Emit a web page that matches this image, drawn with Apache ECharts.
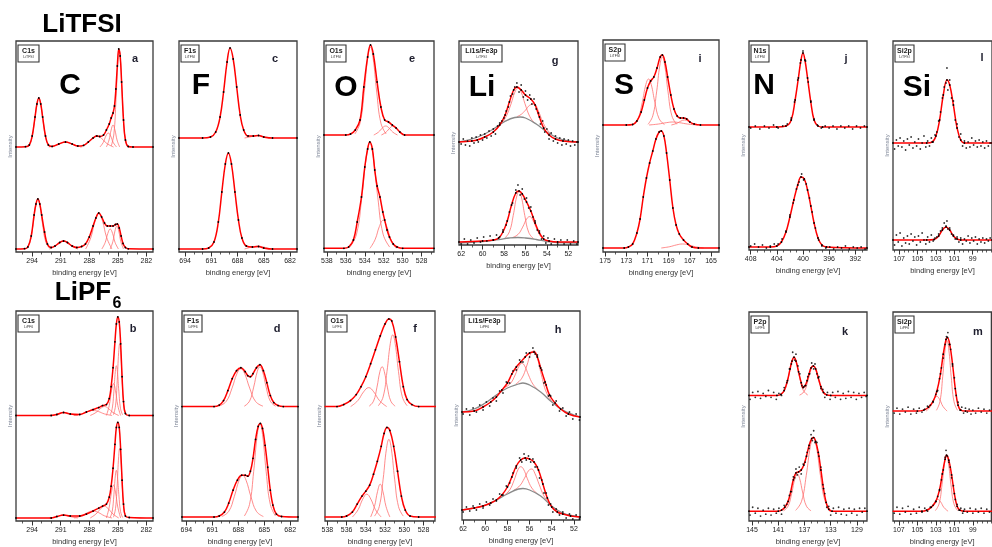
<!DOCTYPE html>
<html><head><meta charset="utf-8">
<script src="https://cdn.jsdelivr.net/npm/echarts@6/dist/echarts.min.js"></script>
<style>html,body{margin:0;padding:0;background:#fff}#c{width:992px;height:547px}</style>
</head><body><div id="c"></div>
<script>
// ---------- tick labels ----------
const tickC = [294, 291, 288, 285, 282];
const tickF = [694, 691, 688, 685, 682];
const tickO = [538, 536, 534, 532, 530, 528];
const tickLi = [62, 60, 58, 56, 54, 52];
const tickS = [175, 173, 171, 169, 167, 165];
const tickN = [408, 404, 400, 396, 392];
const tickP = [145, 141, 137, 133, 129];
const tickSi = [107, 105, 103, 101, 99];

// ---------- a : C1s LiTFSI ----------
const aUpEnv = [[295.7,105],[294.7,105.3],[294.3,107],[294.0,116],[293.7,135],[293.5,148],[293.3,154],[293.1,148],[292.9,135],[292.6,116],[292.3,107],[291.9,105.6],[291.2,108],[290.5,110],[289.8,108],[289.2,106],[288.6,106.6],[288.1,110],[287.6,114],[287.2,116],[286.9,115.5],[286.5,117],[286.2,122],[285.9,128],[285.7,134],[285.5,139],[285.35,146],[285.2,163],[285.05,186],[284.9,203],[284.75,196],[284.6,170],[284.4,132],[284.2,112],[283.9,105.5],[283.4,105],[281.3,105]];
const aUpComps = [
 [[294.5,105.5],[294.1,111.6],[293.78,128.9],[293.5,148.2],[293.3,154],[293.1,148.2],[292.82,128.9],[292.5,111.6],[292.1,105.5]],
 [[292.25,105],[291.55,106.6],[290.99,108.9],[290.5,110],[290.01,108.9],[289.45,106.6],[288.75,105]],
 [[288.95,105],[288.25,108.5],[287.69,113.6],[287.2,116],[286.71,113.6],[286.15,108.5],[285.45,105]],
 [[286.88,105],[286.53,109.5],[286.25,116],[286.0,119],[285.75,116],[285.48,109.5],[285.13,105]],
 [[286.2,105],[285.92,112],[285.7,122],[285.5,127],[285.3,122],[285.08,112],[284.8,105]],
 [[285.69,106],[285.41,118.1],[285.19,152.2],[284.99,190.6],[284.85,202],[284.71,190.6],[284.51,152.2],[284.29,118.1],[284.01,106]]
];
const aLoEnv = [[295.7,3],[294.8,3.3],[294.45,5],[294.1,16],[293.8,37],[293.6,48],[293.4,53],[293.2,48],[293.0,37],[292.7,20],[292.4,8],[292.0,4.5],[291.6,6],[291.1,9.5],[290.7,11],[290.3,9.5],[289.8,6],[289.3,4.5],[288.8,5.5],[288.4,8],[288.0,15],[287.6,26],[287.3,34],[287.0,39],[286.7,35],[286.4,29],[286.1,26],[285.8,26],[285.5,26],[285.25,27.5],[285.05,28],[284.85,24],[284.65,16],[284.45,8.5],[284.2,4.5],[283.9,3.2],[281.3,3]];
const aLoComps = [
 [[294.66,3.6],[294.24,9.8],[293.9,27.4],[293.61,47.1],[293.4,53],[293.19,47.1],[292.9,27.4],[292.56,9.8],[292.14,3.6]],
 [[292.2,3],[291.6,5.6],[291.12,9.2],[290.7,11],[290.28,9.2],[289.8,5.6],[289.2,3]],
 [[288.38,3],[287.83,14.5],[287.39,31],[287.0,39],[286.61,31],[286.17,14.5],[285.62,3]],
 [[286.68,3],[286.33,9.4],[286.05,18.6],[285.8,23],[285.55,18.6],[285.28,9.4],[284.93,3]],
 [[285.8,3],[285.52,10.4],[285.3,21],[285.1,26],[284.9,21],[284.68,10.4],[284.4,3]]
];

// ---------- b : C1s LiPF6 ----------
const bUpEnv = [[295.7,106],[292.0,106],[291.4,107],[290.7,109],[290.0,107.5],[289.0,107],[288.3,109.5],[287.6,112],[287.0,114],[286.6,116],[286.2,117],[285.9,123],[285.7,135],[285.5,154],[285.3,180],[285.15,198],[285.0,205],[284.85,200],[284.7,178],[284.55,145],[284.4,120],[284.2,108],[283.8,106],[281.3,106]];
const bUpComps = [
 [[285.46,106.8],[285.24,115.7],[285.06,141.1],[284.91,169.5],[284.8,178],[284.69,169.5],[284.54,141.1],[284.36,115.7],[284.14,106.8]],
 [[285.81,106.6],[285.59,112.8],[285.41,130.4],[285.26,150.1],[285.15,156],[285.04,150.1],[284.89,130.4],[284.71,112.8],[284.49,106.6]],
 [[286.2,106],[285.9,116],[285.66,131],[285.45,138],[285.24,131],[285.0,116],[284.7,106]],
 [[287.9,106],[287.3,109],[286.82,113],[286.4,115],[285.98,113],[285.5,109],[284.9,106]],
 [[289.6,106],[288.8,107.6],[288.16,110],[287.6,111],[287.04,110],[286.4,107.6],[285.6,106]],
 [[292.2,106],[291.6,107],[291.12,108.3],[290.7,109],[290.28,108.3],[289.8,107],[289.2,106]]
];
const bLoEnv = [[295.7,3],[292.0,3],[291.4,4.5],[290.7,6],[290.0,5],[289.0,5],[288.3,7],[287.6,10],[287.0,13],[286.6,15],[286.2,17],[285.9,24],[285.7,35],[285.5,53],[285.3,77],[285.15,94],[285.0,99],[284.85,94],[284.7,72],[284.55,41],[284.4,17],[284.2,5],[283.8,3.5],[281.3,3]];
const bLoComps = [
 [[285.46,3.8],[285.24,12.5],[285.06,37.1],[284.91,64.7],[284.8,73],[284.69,64.7],[284.54,37.1],[284.36,12.5],[284.14,3.8]],
 [[285.81,3.5],[285.59,9.5],[285.41,26.4],[285.26,45.3],[285.15,51],[285.04,45.3],[284.89,26.4],[284.71,9.5],[284.49,3.5]],
 [[286.2,3],[285.9,14],[285.66,29],[285.45,36],[285.24,29],[285.0,14],[284.7,3]],
 [[287.9,3],[287.3,7],[286.82,12],[286.4,15],[285.98,12],[285.5,7],[284.9,3]],
 [[289.6,3],[288.8,5.2],[288.16,8.5],[287.6,10],[287.04,8.5],[286.4,5.2],[285.6,3]],
 [[292.2,3],[291.6,4],[291.12,5.3],[290.7,6],[290.28,5.3],[289.8,4],[289.2,3]]
];

// ---------- c : F1s LiTFSI ----------
const cUpEnv = [[694.7,114],[692.0,114],[691.1,115],[690.5,120],[690.0,135],[689.6,160],[689.2,190],[688.86,204],[688.5,193],[688.1,165],[687.7,137],[687.3,122],[686.8,116],[686.2,116],[685.6,116.5],[685.0,115],[684.0,114],[681.2,114]];
const cUpComps = [[[687.2,114],[686.6,115],[686.1,116],[685.7,116.5],[685.3,116],[684.8,115],[684.2,114]]];
const cLoEnv = [[694.7,3],[692.0,3],[691.3,4],[690.7,10],[690.2,30],[689.8,60],[689.4,88],[689.05,99],[688.7,88],[688.3,60],[687.9,32],[687.5,14],[687.0,6],[686.3,5],[685.6,5.5],[685.0,4],[684.0,3],[681.2,3]];
const cLoComps = [[[687.2,3],[686.6,4.5],[686.1,5.5],[685.7,6],[685.3,5.5],[684.8,4.5],[684.2,3]]];

// ---------- d : F1s LiPF6 ----------
const dUpEnv = [[694.5,115],[690.8,115],[690.2,116.5],[689.7,121],[689.2,131],[688.7,143],[688.2,151],[687.7,154],[687.2,150],[686.9,146],[686.6,145],[686.3,148],[685.9,154],[685.5,157],[685.1,151],[684.7,139],[684.3,126],[683.9,119],[683.4,116],[682.8,115],[681.1,115]];
const dUpComps = [
 [[690.25,115.4],[689.4,120.1],[688.72,133.5],[688.13,148.5],[687.7,153],[687.28,148.5],[686.68,133.5],[686.0,120.1],[685.15,115.4]],
 [[687.3,115.4],[686.7,120.4],[686.22,134.5],[685.8,150.3],[685.5,155],[685.2,150.3],[684.78,134.5],[684.3,120.4],[683.7,115.4]]
];
const dLoEnv = [[694.5,4],[690.8,4],[690.2,5],[689.6,9],[689.1,18],[688.6,31],[688.1,41],[687.6,46],[687.2,46],[686.9,45],[686.6,50],[686.3,63],[686.0,82],[685.7,95],[685.45,98],[685.2,93],[684.9,76],[684.6,54],[684.3,31],[684.0,16],[683.6,7],[683.0,4.5],[681.1,4]];
const dLoComps = [
 [[689.9,4.5],[689.1,9.7],[688.46,24.5],[687.9,41],[687.5,46],[687.1,41],[686.54,24.5],[685.9,9.7],[685.1,4.5]],
 [[687.3,5],[686.7,16.7],[686.22,49.8],[685.8,86.9],[685.5,98],[685.2,86.9],[684.78,49.8],[684.3,16.7],[683.7,5]]
];

// ---------- e : O1s LiTFSI ----------
const eUpEnv = [[538.3,117],[536.0,117],[535.5,118],[535.0,122],[534.5,132],[534.1,165],[533.7,195],[533.4,207],[533.1,198],[532.7,170],[532.3,145],[531.9,132],[531.5,130],[531.1,127],[530.7,124],[530.3,120],[529.8,117],[526.7,117]];
const eUpComps = [
 [[535.05,118],[534.5,128.9],[534.06,159.9],[533.68,194.6],[533.4,205],[533.13,194.6],[532.74,159.9],[532.3,128.9],[531.75,118]],
 [[533.05,117],[532.55,119.9],[532.15,124],[531.8,126],[531.45,124],[531.05,119.9],[530.55,117]],
 [[532.25,117],[531.75,119.9],[531.35,124],[531.0,126],[530.65,124],[530.25,119.9],[529.75,117]]
];
const eLoEnv = [[538.3,3.7],[536.2,3.7],[535.7,5],[535.2,12],[534.8,30],[534.35,55],[534.0,85],[533.7,103],[533.47,110],[533.2,103],[532.95,82],[532.7,66],[532.4,55],[532.1,40],[531.9,32],[531.65,22],[531.4,15],[531.0,8],[530.6,5],[530.0,3.7],[526.7,3.7]];
const eLoComps = [
 [[535.57,4.9],[534.87,17.9],[534.31,54.8],[533.82,96.3],[533.47,108.7],[533.12,96.3],[532.63,54.8],[532.07,17.9],[531.37,4.9]],
 [[533.45,3.7],[532.9,12.7],[532.46,25.5],[532.07,31.7],[531.68,25.5],[531.25,12.7],[530.7,3.7]]
];

// ---------- f : O1s LiPF6 ----------
const fUpEnv = [[538.3,115],[537.0,115],[536.3,117],[535.6,121],[535.0,127],[534.5,135],[534.0,145],[533.5,158],[533.0,172],[532.5,186],[532.0,198],[531.6,203],[531.3,201],[530.9,185],[530.5,160],[530.1,135],[529.7,122],[529.2,117],[528.5,115],[526.7,115]];
const fUpComps = [
 [[535.58,115],[534.83,121],[534.23,129.8],[533.7,134],[533.18,129.8],[532.58,121],[531.83,115]],
 [[533.65,115.4],[533.2,120.4],[532.84,134.5],[532.53,150.3],[532.3,155],[532.08,150.3],[531.76,134.5],[531.4,120.4],[530.95,115.4]],
 [[532.7,115.8],[532.2,124.7],[531.8,150.1],[531.45,178.5],[531.2,187],[530.95,178.5],[530.6,150.1],[530.2,124.7],[529.7,115.8]]
];
const fLoEnv = [[538.3,4],[536.5,4],[536.0,5],[535.4,9],[534.9,17],[534.4,25],[534.0,30],[533.6,36],[533.2,47],[532.8,60],[532.4,75],[532.1,88],[531.8,94],[531.5,91],[531.1,75],[530.7,50],[530.3,25],[529.9,11],[529.4,5],[528.5,4],[526.7,4]];
const fLoComps = [
 [[535.4,4],[534.8,11.4],[534.32,22],[533.9,27],[533.48,22],[533.0,11.4],[532.4,4]],
 [[533.5,4],[533.1,14.6],[532.78,29.7],[532.5,37],[532.22,29.7],[531.9,14.6],[531.5,4]],
 [[533.1,4.9],[532.6,14.5],[532.2,42],[531.85,72.8],[531.6,82],[531.35,72.8],[531.0,42],[530.6,14.5],[530.1,4.9]]
];

// ---------- g : Li1s/Fe3p LiTFSI ----------
const gUpEnv = [[62.2,103],[61.0,104],[60.5,105],[59.8,108],[59.0,113],[58.4,120],[57.9,130],[57.5,143],[57.1,155],[56.8,158],[56.4,155],[56.0,150],[55.5,146],[55.1,140],[54.7,128],[54.3,117],[53.8,110],[53.2,106],[52.5,104],[51.1,103]];
const gUpBg = [[62.2,103],[61.0,106],[60.0,110],[59.0,116],[58.0,123],[57.0,127.5],[56.5,128],[56.0,127],[55.0,121],[54.0,113],[53.0,107],[52.0,104],[51.1,103]];
const gUpComps = [
 [[58.2,122],[57.8,128.5],[57.35,141],[57.0,152.5],[56.7,157],[56.4,152.8],[56.05,141.4],[55.6,128.5],[55.2,122.5]],
 [[56.8,128.3],[56.4,130.6],[56.0,134.8],[55.6,139.8],[55.2,141],[54.8,134],[54.4,123.4],[54.0,115.6],[53.6,111]]
];
const gUpMeas = [[62.0,101],[61.8,106],[61.6,100],[61.4,104],[61.2,99],[61.0,107],[60.8,102],[60.6,108],[60.4,103],[60.2,110],[60.0,105],[59.8,111],[59.6,107],[59.4,114],[59.2,109],[59.0,116],[58.8,111],[58.6,119],[58.4,122],[58.2,124],[58.0,127],[57.8,134],[57.6,138],[57.4,149],[57.2,151],[57.0,158],[56.8,162],[56.6,153],[56.4,160],[56.2,148],[56.0,154],[55.8,145],[55.6,150],[55.4,141],[55.2,146],[55.0,136],[54.8,132],[54.6,121],[54.4,124],[54.2,113],[54.0,116],[53.8,106],[53.6,112],[53.4,104],[53.2,109],[53.0,102],[52.8,107],[52.6,100],[52.4,106],[52.2,101],[52.0,105],[51.8,99],[51.6,104],[51.4,100],[51.2,103]];
const gLoEnv = [[62.2,3],[60.0,4],[59.0,5],[58.5,7],[58.1,13],[57.7,24],[57.3,40],[56.9,52],[56.6,54],[56.3,51],[55.9,43],[55.5,34],[55.1,22],[54.7,12],[54.3,6],[53.8,4],[53.0,3],[51.1,3]];
const gLoBg = [[62.2,2],[60.0,3.5],[58.5,5.5],[57.5,7],[56.7,7.5],[56.0,7],[55.0,5.5],[54.0,3.5],[53.0,2.5],[51.1,2]];
const gLoComps = [
 [[57.95,6.7],[57.5,13.2],[57.14,29.6],[56.83,48],[56.6,53.5],[56.38,48],[56.06,29.4],[55.7,12.7],[55.25,6.3]],
 [[57.25,7.3],[56.7,10.5],[56.26,17.9],[55.88,26.2],[55.6,28.4],[55.33,25.4],[54.94,16.1],[54.5,7.5],[53.95,3.7]]
];
const gLoMeas = [[62.0,1],[61.7,6],[61.4,1],[61.1,5],[60.8,2],[60.5,7],[60.2,3],[59.9,8],[59.6,4],[59.3,9],[59.0,5],[58.7,10],[58.4,8],[58.1,15],[57.8,20],[57.5,33],[57.2,42],[56.9,55],[56.7,60],[56.5,50],[56.3,56],[56.1,46],[55.9,47],[55.7,37],[55.5,38],[55.3,28],[55.1,24],[54.9,15],[54.7,14],[54.5,6],[54.3,9],[54.1,2],[53.9,7],[53.6,1],[53.3,6],[53.0,1],[52.7,5],[52.4,1],[52.1,5],[51.8,1],[51.5,4],[51.2,1]];

// ---------- h : Li1s/Fe3p LiPF6 ----------
const hUpEnv = [[62.1,108],[61.0,109],[60.2,113],[59.5,118],[59.0,123],[58.5,130],[58.0,137],[57.6,146],[57.2,153],[56.8,158],[56.4,163],[56.0,167],[55.6,168],[55.3,163],[55.0,152],[54.6,138],[54.2,125],[53.7,117],[53.2,111],[52.5,106],[51.45,103]];
const hUpBg = [[62.1,108],[61.0,111],[60.0,117],[59.0,125],[58.0,132],[57.0,136],[56.6,137],[56.0,135],[55.0,128],[54.0,118],[53.0,110],[52.0,105],[51.45,103]];
const hUpComps = [
 [[58.2,132.6],[57.7,136.9],[57.3,145.1],[56.95,153.9],[56.7,156.8],[56.45,154.2],[56.1,145.1],[55.7,135.9],[55.2,129.8]],
 [[57.25,135.9],[56.7,141.8],[56.26,154],[55.88,166.7],[55.6,169.3],[55.33,162.9],[54.94,145.4],[54.5,128],[53.95,117.9]]
];
const hUpMeas = [[62.0,106],[61.7,111],[61.4,105],[61.1,112],[60.8,108],[60.5,115],[60.2,110],[59.9,118],[59.6,114],[59.3,122],[59.0,119],[58.7,129],[58.4,127],[58.1,138],[57.8,137],[57.5,149],[57.2,150],[56.9,160],[56.6,158],[56.3,167],[56.0,163],[55.7,172],[55.5,166],[55.3,165],[55.1,154],[54.9,150],[54.7,137],[54.5,135],[54.3,124],[54.1,124],[53.9,115],[53.6,119],[53.3,109],[53.0,112],[52.7,104],[52.4,108],[52.1,101],[51.8,106],[51.5,100]];
const hLoEnv = [[62.1,10],[61.0,12],[60.2,14],[59.5,17],[59.0,20],[58.5,25],[58.0,33],[57.6,43],[57.2,54],[56.8,60],[56.4,62],[56.0,61],[55.6,58],[55.2,50],[54.8,36],[54.4,22],[54.0,13],[53.5,8],[53.0,6],[52.3,4],[51.45,3]];
const hLoBg = [[62.1,10],[61.0,12],[60.0,15],[59.0,20],[58.0,26],[57.0,31],[56.6,31.5],[56.0,30],[55.0,24],[54.0,14],[53.0,7],[52.0,4],[51.45,3]];
const hLoComps = [
 [[58.3,24.6],[57.8,30],[57.4,39.7],[57.05,50.2],[56.8,53.3],[56.55,50.9],[56.2,41.3],[55.8,32],[55.3,26.2]],
 [[57.45,29.6],[56.9,34.1],[56.46,41.8],[56.08,49.5],[55.8,51],[55.53,46.8],[55.14,35.7],[54.7,24],[54.15,15.7]]
];
const hLoMeas = [[62.0,8],[61.7,13],[61.4,9],[61.1,14],[60.8,10],[60.5,16],[60.2,12],[59.9,18],[59.6,15],[59.3,21],[59.0,19],[58.7,26],[58.4,25],[58.1,34],[57.8,37],[57.5,47],[57.2,52],[56.9,62],[56.7,58],[56.5,66],[56.3,60],[56.1,64],[55.9,58],[55.7,61],[55.5,53],[55.3,53],[55.1,42],[54.9,40],[54.7,27],[54.5,27],[54.3,15],[54.1,16],[53.9,8],[53.6,11],[53.3,5],[53.0,8],[52.7,2],[52.4,6],[52.1,1],[51.8,5],[51.5,1]];

// ---------- i : S2p LiTFSI ----------
const iUpEnv = [[175.2,127],[173.0,127],[172.4,127.5],[172.0,131],[171.6,140],[171.3,152],[171.0,164],[170.7,171],[170.4,175],[170.1,184],[169.8,195],[169.6,197],[169.35,190],[169.1,175],[168.8,157],[168.5,143],[168.2,136],[167.9,134],[167.6,134],[167.3,133],[167.0,130],[166.6,128],[166.0,127],[164.25,127]];
const iUpComps = [
 [[170.95,127.7],[170.5,136.2],[170.14,160.1],[169.83,187],[169.6,195],[169.38,187],[169.06,160.1],[168.7,136.2],[168.25,127.7]],
 [[172.4,127.5],[171.9,133.2],[171.5,149.4],[171.15,167.6],[170.9,173],[170.65,167.6],[170.3,149.4],[169.9,133.2],[169.4,127.5]],
 [[168.75,127],[168.25,128.6],[167.85,130.9],[167.5,132],[167.15,130.9],[166.75,128.6],[166.25,127]],
 [[170.85,127],[169.95,128],[169.23,129.3],[168.6,130],[167.97,129.3],[167.25,128],[166.35,127]]
];
const iLoEnv = [[175.2,4],[173.2,4],[172.8,5],[172.4,8],[172.0,19],[171.7,33],[171.4,55],[171.1,74],[170.8,89],[170.5,101],[170.2,113],[169.9,120],[169.7,121],[169.45,116],[169.2,99],[168.9,72],[168.6,44],[168.3,27],[168.0,18],[167.6,12],[167.2,8],[166.8,5],[166.2,4],[164.25,4]];
const iLoComps = [[[169.7,4],[168.9,5.3],[168.26,7.1],[167.7,8],[167.14,7.1],[166.5,5.3],[165.7,4]]];

// ---------- j : N1s LiTFSI ----------
const jUpEnv = [[408.26,123],[404,123],[402.6,124],[401.8,130],[401.2,150],[400.7,172],[400.3,190],[400.0,197],[399.7,190],[399.3,172],[398.8,148],[398.3,130],[397.7,124],[397,123],[390.2,123]];
const jUpMeas = [[408,122],[407.3,124],[406.6,121],[405.9,124],[405.2,122],[404.5,125],[403.8,122],[403.1,124],[402.4,126],[401.8,132],[401.3,148],[400.8,170],[400.4,187],[400.0,199],[399.6,189],[399.2,168],[398.8,149],[398.3,131],[397.8,125],[397.2,122],[396.6,124],[396.0,122],[395.4,124],[394.8,121],[394.2,124],[393.6,122],[393.0,124],[392.4,121],[391.8,124],[391.2,122],[390.6,124]];
const jLoEnv = [[408.26,3],[405,3],[404,4],[403.3,8],[402.6,18],[402.0,33],[401.4,50],[400.8,65],[400.3,73],[399.8,71],[399.3,60],[398.8,44],[398.3,27],[397.7,12],[397.1,5],[396.4,3],[390.2,2]];
const jLoMeas = [[408,4],[407.4,6],[406.8,3],[406.2,5],[405.6,2],[405,4],[404.4,6],[403.8,6],[403.2,11],[402.6,19],[402.0,35],[401.5,47],[401.0,61],[400.6,68],[400.2,76],[399.9,70],[399.5,66],[399.0,52],[398.6,38],[398.1,22],[397.6,10],[397.1,4],[396.5,2],[395.9,3],[395.3,1],[394.7,3],[394.1,2],[393.5,4],[392.9,1],[392.3,3],[391.7,2],[391.1,3],[390.5,1]];

// ---------- k : P2p LiPF6 ----------
const kUpEnv = [[145.46,128],[141.2,128],[140.6,129],[140.1,133],[139.6,143],[139.2,155],[138.9,163],[138.6,167],[138.3,163],[137.9,152],[137.5,141],[137.2,136],[136.9,138],[136.6,143],[136.3,150],[136.0,156],[135.65,158],[135.3,155],[134.9,146],[134.5,137],[134.1,131],[133.6,128.5],[133.0,128],[127.47,128]];
const kUpComps = [
 [[140.7,128.4],[140.0,133.3],[139.44,147],[138.95,162.4],[138.6,167],[138.25,162.4],[137.76,147],[137.2,133.3],[136.5,128.4]],
 [[137.75,128.3],[137.05,132],[136.49,142.6],[136.0,154.5],[135.65,158],[135.3,154.5],[134.81,142.6],[134.25,132],[133.55,128.3]]
];
const kUpMeas = [[145.3,124],[144.9,131],[144.5,126],[144.1,132],[143.7,125],[143.3,130],[142.9,127],[142.5,133],[142.1,126],[141.7,131],[141.3,124],[140.9,130],[140.5,128],[140.1,136],[139.7,141],[139.3,155],[139.0,160],[138.8,172],[138.5,164],[138.3,170],[138.0,158],[137.7,150],[137.4,138],[137.1,137],[136.8,138],[136.5,147],[136.2,150],[135.9,161],[135.6,155],[135.4,160],[135.1,150],[134.8,147],[134.5,135],[134.2,134],[133.9,126],[133.5,131],[133.1,124],[132.7,131],[132.3,126],[131.9,132],[131.5,124],[131.1,130],[130.7,125],[130.3,132],[129.9,126],[129.5,131],[129.1,124],[128.7,130],[128.3,126],[127.9,131],[127.6,127]];
const kLoEnv = [[145.46,10],[141.0,10],[140.5,11],[140.0,14],[139.5,20],[139.1,30],[138.7,42],[138.3,49],[137.9,50],[137.5,52],[137.1,57],[136.7,66],[136.3,77],[135.9,84],[135.6,85],[135.3,81],[134.9,70],[134.5,52],[134.1,33],[133.7,19],[133.3,12],[132.8,10],[127.47,10]];
const kLoComps = [
 [[140.2,10.4],[139.5,15.1],[138.94,28.5],[138.45,43.5],[138.1,48],[137.75,43.5],[137.26,28.5],[136.7,15.1],[136.0,10.4]],
 [[138.35,10.8],[137.45,20.1],[136.73,46.5],[136.1,76.2],[135.65,85],[135.2,76.2],[134.57,46.5],[133.85,20.1],[132.95,10.8]]
];
const kLoMeas = [[145.3,6],[144.9,14],[144.5,8],[144.1,13],[143.7,5],[143.3,11],[142.9,7],[142.5,13],[142.1,6],[141.7,12],[141.3,8],[140.9,13],[140.5,7],[140.1,16],[139.7,17],[139.3,26],[139.0,30],[138.7,45],[138.5,44],[138.3,53],[138.1,47],[137.8,55],[137.5,48],[137.2,58],[136.9,60],[136.6,70],[136.3,74],[136.0,88],[135.8,82],[135.6,92],[135.4,80],[135.1,80],[134.8,66],[134.5,55],[134.2,37],[133.9,28],[133.6,14],[133.3,15],[133.0,6],[132.6,13],[132.2,8],[131.8,14],[131.4,7],[131.0,12],[130.6,6],[130.2,13],[129.8,8],[129.4,12],[129.0,6],[128.6,13],[128.2,9],[127.8,13]];

// ---------- l : Si2p LiTFSI ----------
const lUpEnv = [[107.67,107],[104,107],[103.4,108],[103.0,114],[102.6,130],[102.2,155],[101.8,170],[101.5,165],[101.1,145],[100.7,122],[100.3,110],[99.9,107],[96.9,107]];
const lUpMeas = [[107.5,101],[107.3,110],[107.1,104],[106.9,112],[106.7,103],[106.5,109],[106.3,100],[106.1,111],[105.9,105],[105.7,113],[105.5,102],[105.3,108],[105.1,104],[104.9,111],[104.7,101],[104.5,107],[104.3,114],[104.1,103],[103.9,109],[103.7,104],[103.5,112],[103.3,108],[103.1,115],[102.9,118],[102.7,129],[102.5,138],[102.3,152],[102.1,163],[101.9,167],[101.8,182],[101.7,160],[101.5,170],[101.3,152],[101.1,149],[100.9,130],[100.7,126],[100.5,113],[100.3,116],[100.1,104],[99.9,109],[99.7,102],[99.5,108],[99.3,103],[99.1,112],[98.9,105],[98.7,109],[98.5,103],[98.3,110],[98.1,104],[97.9,108],[97.7,102],[97.5,109],[97.3,104],[97.1,107]];
const lLoEnv = [[107.67,10],[104,10],[103.2,10.5],[102.7,14],[102.3,20],[101.9,23],[101.5,20],[101.1,14],[100.7,11],[100.3,10],[96.9,10]];
const lLoMeas = [[107.5,5],[107.3,15],[107.1,8],[106.9,17],[106.7,4],[106.5,12],[106.3,7],[106.1,14],[105.9,6],[105.7,16],[105.5,9],[105.3,13],[105.1,5],[104.9,14],[104.7,8],[104.5,17],[104.3,10],[104.1,6],[103.9,13],[103.7,8],[103.5,15],[103.3,9],[103.1,12],[102.9,13],[102.7,16],[102.5,19],[102.3,22],[102.1,27],[101.9,24],[101.8,29],[101.7,21],[101.5,22],[101.3,16],[101.1,15],[100.9,11],[100.7,13],[100.5,8],[100.3,12],[100.1,6],[99.9,11],[99.7,9],[99.5,14],[99.3,7],[99.1,12],[98.9,9],[98.7,13],[98.5,6],[98.3,11],[98.1,8],[97.9,12],[97.7,7],[97.5,11],[97.3,9],[97.1,12]];

// ---------- m : Si2p LiPF6 ----------
const mUpEnv = [[107.67,112],[105,112],[104.3,113],[103.8,116],[103.3,122],[102.9,132],[102.5,150],[102.2,170],[101.9,185],[101.75,187],[101.5,180],[101.2,160],[100.9,135],[100.6,118],[100.3,113],[99.8,112],[96.9,112]];
const mUpComps = [
 [[102.94,112.8],[102.56,121.7],[102.26,147.1],[101.99,175.5],[101.8,184],[101.61,175.5],[101.34,147.1],[101.04,121.7],[100.66,112.8]],
 [[104.03,112],[103.58,116.8],[103.22,123.7],[102.9,127],[102.58,123.7],[102.23,116.8],[101.78,112]]
];
const mUpMeas = [[107.5,110],[107.2,115],[106.9,109],[106.6,114],[106.3,111],[106.0,116],[105.7,109],[105.4,114],[105.1,110],[104.8,115],[104.5,111],[104.2,114],[103.9,117],[103.6,118],[103.3,121],[103.0,129],[102.8,133],[102.6,145],[102.4,156],[102.2,166],[102.0,180],[101.85,188],[101.7,192],[101.55,180],[101.4,175],[101.2,158],[101.0,146],[100.8,128],[100.6,121],[100.4,113],[100.2,116],[100.0,110],[99.8,115],[99.6,111],[99.4,114],[99.2,109],[99.0,113],[98.7,110],[98.4,115],[98.1,111],[97.8,114],[97.5,110],[97.2,113]];
const mLoEnv = [[107.67,10],[104.5,10],[104.0,11],[103.5,14],[103.0,20],[102.6,32],[102.3,48],[102.0,63],[101.85,67],[101.6,62],[101.3,47],[101.0,28],[100.7,15],[100.4,11],[100.0,10],[96.9,10]];
const mLoComps = [
 [[103.05,10.6],[102.65,17.6],[102.33,37.3],[102.05,59.4],[101.85,66],[101.65,59.4],[101.37,37.3],[101.05,17.6],[100.65,10.6]],
 [[103.93,10],[103.48,13.8],[103.12,19.4],[102.8,22],[102.48,19.4],[102.13,13.8],[101.68,10]]
];
const mLoMeas = [[107.5,8],[107.2,14],[106.9,7],[106.6,13],[106.3,9],[106.0,15],[105.7,7],[105.4,12],[105.1,8],[104.8,14],[104.5,9],[104.2,13],[103.9,10],[103.6,14],[103.3,16],[103.0,20],[102.8,25],[102.6,31],[102.4,42],[102.2,52],[102.0,65],[101.9,72],[101.75,66],[101.6,60],[101.45,55],[101.3,44],[101.1,36],[100.9,22],[100.7,17],[100.5,11],[100.3,13],[100.1,8],[99.9,12],[99.6,9],[99.3,13],[99.0,8],[98.7,12],[98.4,9],[98.1,13],[97.8,8],[97.5,12],[97.2,9]];

// ---------- layout ----------
function range(a, b, s) { const r = []; for (let v = a; v <= b + 1e-9; v += s) r.push(+v.toFixed(2)); return r; }
const FONT = '"Liberation Sans", Arial, sans-serif';

const PANELS = [
 {box:[16,41,137,211], xr:[281.3,295.7], major:tickC, minor:range(282,295,1), spec:[{env:aUpEnv,comps:aUpComps},{env:aLoEnv,comps:aLoComps}], tag:'C1s', salt:'LiTFSI', tagW:21, big:'C', bigXY:[70,86], let:'a', letXY:[135,59]},
 {box:[179,41,118,211], xr:[681.2,694.7], major:tickF, minor:range(682,694,1), spec:[{env:cUpEnv,comps:cUpComps},{env:cLoEnv,comps:cLoComps}], tag:'F1s', salt:'LiTFSI', tagW:18, big:'F', bigXY:[201,86], let:'c', letXY:[275,59]},
 {box:[324,41,110,211], xr:[526.7,538.3], major:tickO, minor:range(527,538,1), spec:[{env:eUpEnv,comps:eUpComps},{env:eLoEnv,comps:eLoComps}], tag:'O1s', salt:'LiTFSI', tagW:20, big:'O', bigXY:[346,88], let:'e', letXY:[412,59]},
 {box:[459,41,119,204], xr:[51.1,62.2], major:tickLi, minor:range(52,62,1), spec:[{env:gUpEnv,comps:gUpComps,bg:gUpBg,meas:gUpMeas},{env:gLoEnv,comps:gLoComps,bg:gLoBg,meas:gLoMeas}], tag:'Li1s/Fe3p', salt:'LiTFSI', tagW:41, big:'Li', bigXY:[482,88], let:'g', letXY:[555,61]},
 {box:[603,40,116,212], xr:[164.25,175.2], major:tickS, minor:range(165,175,1), spec:[{env:iUpEnv,comps:iUpComps},{env:iLoEnv,comps:iLoComps}], tag:'S2p', salt:'LiTFSI', tagW:20, big:'S', bigXY:[624,86], let:'i', letXY:[700,59]},
 {box:[749,41,118,209], xr:[390.2,408.26], major:tickN, minor:range(391,408,1), spec:[{env:jUpEnv,comps:[],meas:jUpMeas},{env:jLoEnv,comps:[],meas:jLoMeas}], tag:'N1s', salt:'LiTFSI', tagW:18, big:'N', bigXY:[764,86], let:'j', letXY:[846,59]},
 {box:[893,41,118,209], xr:[96.9,107.67], major:tickSi, minor:range(97,107.5,0.5), spec:[{env:lUpEnv,comps:[],meas:lUpMeas},{env:lLoEnv,comps:[],meas:lLoMeas}], tag:'Si2p', salt:'LiTFSI', tagW:19, big:'Si', bigXY:[917,88], let:'l', letXY:[982,58]},
 {box:[16,311,137,211], xr:[281.3,295.7], major:tickC, minor:range(282,295,1), spec:[{env:bUpEnv,comps:bUpComps},{env:bLoEnv,comps:bLoComps}], tag:'C1s', salt:'LiPF6', tagW:21, let:'b', letXY:[133,329]},
 {box:[182,311,116,211], xr:[681.1,694.5], major:tickF, minor:range(682,694,1), spec:[{env:dUpEnv,comps:dUpComps},{env:dLoEnv,comps:dLoComps}], tag:'F1s', salt:'LiPF6', tagW:18, let:'d', letXY:[277,329]},
 {box:[325,311,110,211], xr:[526.8,538.25], major:tickO, minor:range(527,538,1), spec:[{env:fUpEnv,comps:fUpComps},{env:fLoEnv,comps:fLoComps}], tag:'O1s', salt:'LiPF6', tagW:20, let:'f', letXY:[415,329]},
 {box:[462,311,118,209], xr:[51.45,62.1], major:tickLi, minor:range(52,62,1), spec:[{env:hUpEnv,comps:hUpComps,bg:hUpBg,meas:hUpMeas},{env:hLoEnv,comps:hLoComps,bg:hLoBg,meas:hLoMeas}], tag:'Li1s/Fe3p', salt:'LiPF6', tagW:41, let:'h', letXY:[558,330]},
 {box:[749,312,118,213], xr:[127.47,145.46], major:tickP, minor:range(128,145,1), spec:[{env:kUpEnv,comps:kUpComps,meas:kUpMeas},{env:kLoEnv,comps:kLoComps,meas:kLoMeas}], tag:'P2p', salt:'LiPF6', tagW:18, let:'k', letXY:[845,332]},
 {box:[893,312,118,213], xr:[97.0,107.63], major:tickSi, minor:range(97,107.5,0.5), spec:[{env:mUpEnv,comps:mUpComps,meas:mUpMeas},{env:mLoEnv,comps:mLoComps,meas:mLoMeas}], tag:'Si2p', salt:'LiPF6', tagW:19, let:'m', letXY:[978,332]}
];

const grid = [], xAxis = [], yAxis = [], series = [], graphic = [];
PANELS.forEach((p, i) => {
  const [L, T, W, H] = p.box;
  grid.push({left: L, top: T, width: W, height: H, show: true, borderColor: '#3a3a3a', borderWidth: 1.3, backgroundColor: 'rgba(0,0,0,0)'});
  xAxis.push({gridIndex: i, type: 'value', inverse: true, min: p.xr[0], max: p.xr[1], position: 'bottom',
    axisLine: {show: false}, splitLine: {show: false},
    axisTick: {show: true, customValues: p.major, length: 4.5, lineStyle: {color: '#333', width: 1}},
    axisLabel: {customValues: p.major, fontSize: 7, color: '#222', margin: 6, fontFamily: FONT},
    name: 'binding energy [eV]', nameLocation: 'middle', nameGap: 17,
    nameTextStyle: {fontSize: 7.5, color: '#333', fontFamily: FONT}});
  xAxis.push({gridIndex: i, type: 'value', inverse: true, min: p.xr[0], max: p.xr[1], position: 'bottom',
    axisLine: {show: false}, splitLine: {show: false}, axisLabel: {show: false},
    axisTick: {show: true, customValues: p.minor, length: 2.5, lineStyle: {color: '#333', width: 0.8}}});
  yAxis.push({gridIndex: i, type: 'value', min: 0, max: H, axisLine: {show: false}, axisTick: {show: false},
    axisLabel: {show: false}, splitLine: {show: false},
    name: 'Intensity', nameLocation: 'middle', nameGap: 3, nameRotate: 90,
    nameTextStyle: {fontSize: 6, color: '#7d8596', fontFamily: FONT}});
  const xi = 2 * i;
  p.spec.forEach(s => {
    s.comps.forEach(c => series.push({type: 'line', xAxisIndex: xi, yAxisIndex: i, data: c, smooth: 0.45,
      showSymbol: false, silent: true, lineStyle: {color: '#ff6f6f', width: 0.8}, z: 2}));
    if (s.bg) series.push({type: 'line', xAxisIndex: xi, yAxisIndex: i, data: s.bg, smooth: 0.45,
      showSymbol: false, silent: true, lineStyle: {color: '#8a8a8a', width: 1.3}, z: 2});
    series.push({type: 'line', xAxisIndex: xi, yAxisIndex: i, data: s.env, smooth: 0.4,
      symbol: 'circle', symbolSize: 1.8, showSymbol: true, itemStyle: {color: '#000'},
      lineStyle: {color: '#ff0000', width: 1.5}, z: 3, silent: true});
    if (s.meas) series.push({type: 'scatter', xAxisIndex: xi, yAxisIndex: i, data: s.meas, symbolSize: 1.8,
      itemStyle: {color: '#000'}, z: 4, silent: true});
  });
  // tag box
  graphic.push({type: 'rect', shape: {x: L + 2, y: T + 4, width: p.tagW, height: 17},
    style: {fill: '#fff', stroke: '#333', lineWidth: 1.1}, z: 10});
  graphic.push({type: 'text', x: L + 2 + p.tagW / 2, y: T + 10,
    style: {text: p.tag, font: 'bold 7px ' + FONT, fill: '#222', align: 'center', verticalAlign: 'middle', textAlign: 'center', textVerticalAlign: 'middle'}, z: 11});
  graphic.push({type: 'text', x: L + 2 + p.tagW / 2, y: T + 16.5,
    style: {text: p.salt, font: '3.5px ' + FONT, fill: '#333', align: 'center', verticalAlign: 'middle', textAlign: 'center', textVerticalAlign: 'middle'}, z: 11});
  graphic.push({type: 'text', x: p.letXY[0], y: p.letXY[1],
    style: {text: p.let, font: 'bold 11px ' + FONT, fill: '#1e1e2e', align: 'center', verticalAlign: 'middle', textAlign: 'center', textVerticalAlign: 'middle'}, z: 11});
  if (p.big) graphic.push({type: 'text', x: p.bigXY[0], y: p.bigXY[1],
    style: {text: p.big, font: 'bold 30px ' + FONT, fill: '#000', align: 'center', verticalAlign: 'middle', textAlign: 'center', textVerticalAlign: 'middle'}, z: 11});
});
graphic.push({type: 'text', x: 82, y: 25,
  style: {text: 'LiTFSI', font: 'bold 26px ' + FONT, fill: '#000', align: 'center', verticalAlign: 'middle', textAlign: 'center', textVerticalAlign: 'middle'}});
graphic.push({type: 'text', x: 83, y: 293,
  style: {text: 'LiPF', font: 'bold 26px ' + FONT, fill: '#000', align: 'center', verticalAlign: 'middle', textAlign: 'center', textVerticalAlign: 'middle'}});
graphic.push({type: 'text', x: 117, y: 304,
  style: {text: '6', font: 'bold 16px ' + FONT, fill: '#000', align: 'center', verticalAlign: 'middle', textAlign: 'center', textVerticalAlign: 'middle'}});

const chart = echarts.init(document.getElementById('c'), null, {renderer: 'canvas'});
chart.setOption({animation: false, backgroundColor: '#fff', grid, xAxis, yAxis, series, graphic});
</script></body></html>
